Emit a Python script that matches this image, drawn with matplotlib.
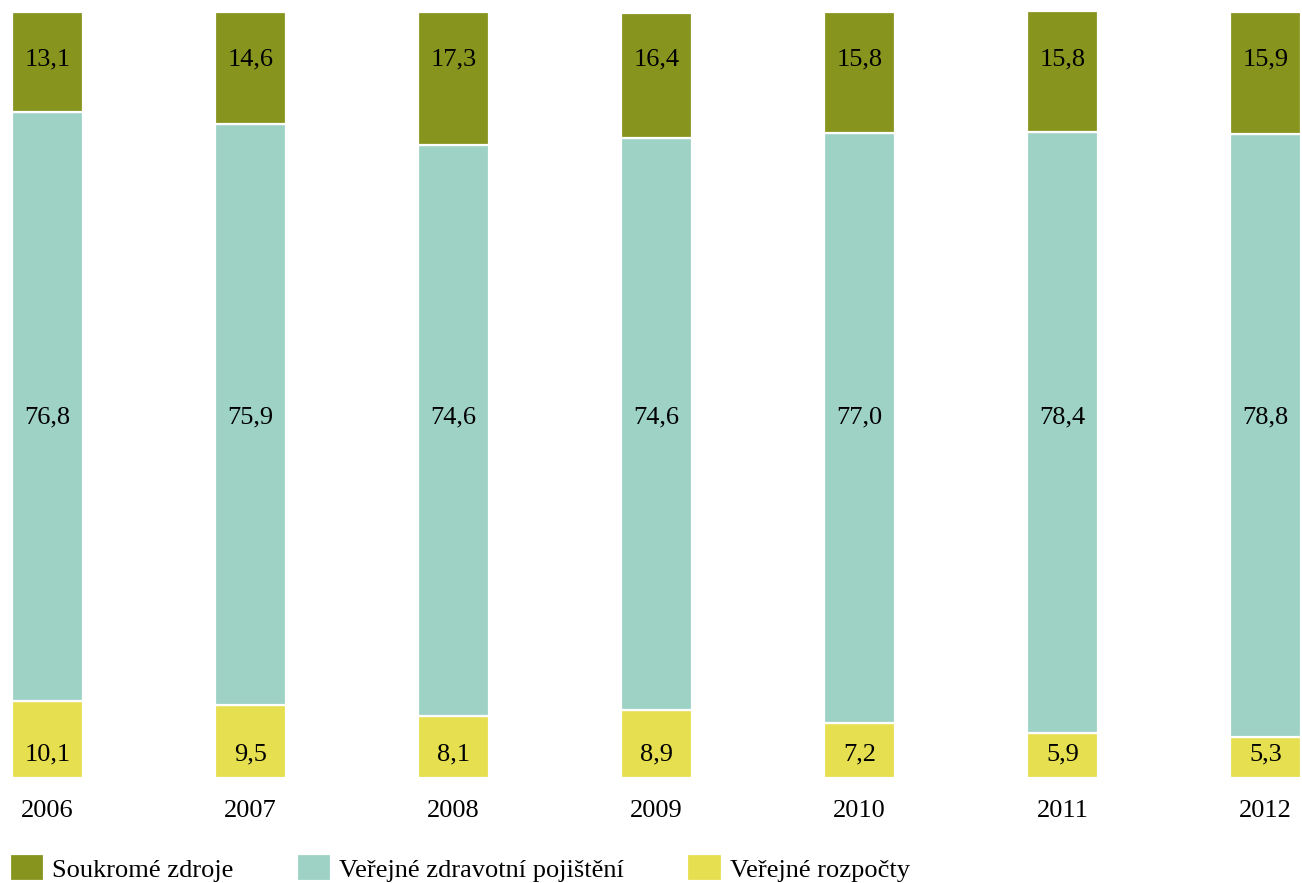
import matplotlib
matplotlib.use("Agg")
import matplotlib.pyplot as plt
import numpy as np

# data (shares in %)
years = ["2006", "2007", "2008", "2009", "2010", "2011", "2012"]
rozpocty = [10.1, 9.5, 8.1, 8.9, 7.2, 5.9, 5.3]
pojisteni = [76.8, 75.9, 74.6, 74.6, 77.0, 78.4, 78.8]
soukrome = [13.1, 14.6, 17.3, 16.4, 15.8, 15.8, 15.9]

series_names = ["Soukromé zdroje", "Veřejné zdravotní pojištění", "Veřejné rozpočty"]
colors = ["#87951f", "#9dd2c4", "#e6df50"]

plt.rcParams["font.family"] = ["Liberation Serif", "DejaVu Serif"]
FS = 19

fig = plt.figure(figsize=(13.02, 8.83), dpi=100)
ax = fig.add_axes([12 / 1302, 105 / 883, 1289 / 1302, 766 / 883])

x = np.arange(len(years))
width = 0.35
bottom_mid = np.array(rozpocty)
bottom_top = bottom_mid + np.array(pojisteni)

b_yel = ax.bar(x, rozpocty, width, color=colors[2], edgecolor="white", linewidth=1.6)
b_teal = ax.bar(x, pojisteni, width, bottom=bottom_mid, color=colors[1],
                edgecolor="white", linewidth=1.6)
b_olive = ax.bar(x, soukrome, width, bottom=bottom_top, color=colors[0],
                 edgecolor="white", linewidth=1.6)

# value labels sit at fixed heights in the original
for i in range(len(years)):
    ax.text(x[i], 93.8, f"{soukrome[i]:.1f}".replace(".", ","), ha="center",
            va="center", fontsize=FS)
    ax.text(x[i], 47.1, f"{pojisteni[i]:.1f}".replace(".", ","), ha="center",
            va="center", fontsize=FS)
    ax.text(x[i], 3.1, f"{rozpocty[i]:.1f}".replace(".", ","), ha="center",
            va="center", fontsize=FS)

ax.set_xlim(-0.175, len(years) - 1 + 0.175)
ax.set_ylim(0, 100)
ax.set_xticks(x)
ax.set_xticklabels(years, fontsize=FS)
ax.tick_params(axis="x", length=0, pad=16)
ax.set_yticks([])
for s in ax.spines.values():
    s.set_visible(False)

fig.legend([b_olive, b_teal, b_yel], series_names, loc="center left",
           bbox_to_anchor=(10 / 1302, 1 - 868 / 883), ncol=3, frameon=False,
           fontsize=FS, handlelength=1.3, handleheight=1.2, handletextpad=0.3,
           columnspacing=2.4, borderpad=0, borderaxespad=0)

fig.savefig("out.png", dpi=100)
